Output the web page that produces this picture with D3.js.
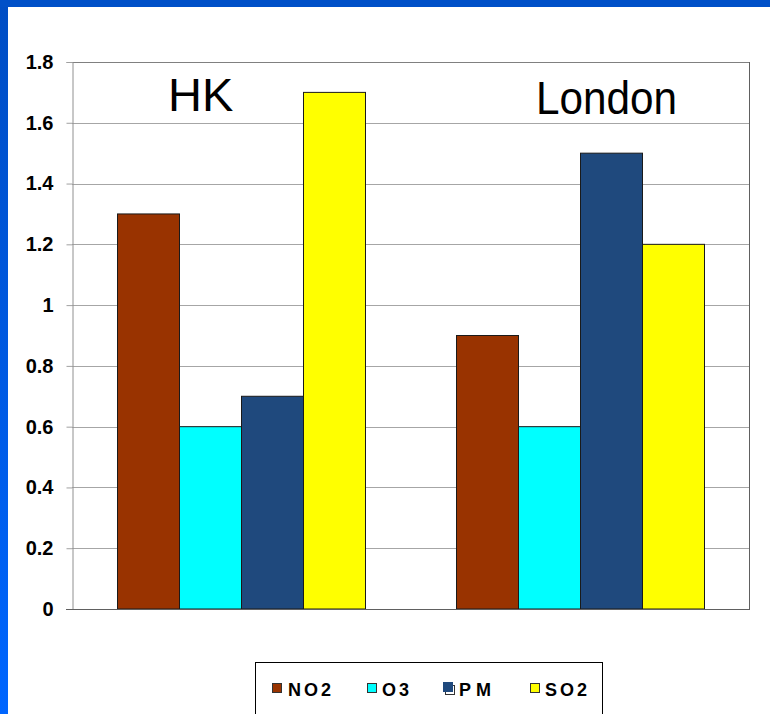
<!DOCTYPE html>
<html>
<head>
<meta charset="utf-8">
<script src="https://cdn.jsdelivr.net/npm/d3@7"></script>
<style>
  html, body { margin: 0; padding: 0; background: #ffffff; }
  svg { display: block; }
</style>
</head>
<body>
<svg id="chart" width="770" height="714"></svg>
<script>
// Pollutant ratios by city
const cities = ["HK", "London"];
const pollutants = ["NO2", "O3", "PM", "SO2"];
const no2 = [1.3, 0.9];
const o3  = [0.6, 0.6];
const pm  = [0.7, 1.5];
const so2 = [1.7, 1.2];
const yTicks = [0, 0.2, 0.4, 0.6, 0.8, 1, 1.2, 1.4, 1.6, 1.8];
const legendLabels = ["NO2", "O3", "PM", "SO2"];

const seriesValues = { NO2: no2, O3: o3, PM: pm, SO2: so2 };
const colors = { NO2: "#993300", O3: "#00ffff", PM: "#1f497d", SO2: "#ffff00" };

const svg = d3.select("#chart");
const W = 770, H = 714;

// blue slide frame (top and left edges)
const defs = svg.append("defs");
const grad = defs.append("linearGradient").attr("id", "frameGrad")
  .attr("x1", 0).attr("y1", 0).attr("x2", 0).attr("y2", 1);
grad.append("stop").attr("offset", "0%").attr("stop-color", "#004ec4");
grad.append("stop").attr("offset", "100%").attr("stop-color", "#0066ff");
svg.append("rect").attr("x", 0).attr("y", 0).attr("width", 8).attr("height", H).attr("fill", "url(#frameGrad)");
svg.append("rect").attr("x", 0).attr("y", 0).attr("width", W).attr("height", 7).attr("fill", "#0050c8");

const plot = { left: 72, top: 62, right: 750, bottom: 609 };

const y = d3.scaleLinear().domain([0, 1.8]).range([plot.bottom, plot.top]);
const x0 = d3.scaleBand().domain(cities).range([plot.left, plot.right]).padding(0);
const x1 = d3.scaleBand().domain(pollutants).range([0, x0.bandwidth()])
  .paddingInner(0).paddingOuter(0.734);

// gridlines
svg.append("g").selectAll("line").data(yTicks.filter(d => d > 0 && d < 1.8)).join("line")
  .attr("x1", plot.left).attr("x2", plot.right)
  .attr("y1", d => Math.round(y(d)) + 0.5).attr("y2", d => Math.round(y(d)) + 0.5)
  .attr("stroke", "#a6a6a6").attr("stroke-width", 1);

// plot frame
svg.append("line").attr("x1", plot.left).attr("x2", plot.right)
  .attr("y1", plot.top + 0.5).attr("y2", plot.top + 0.5).attr("stroke", "#808080");
svg.append("line").attr("x1", plot.right - 0.5).attr("x2", plot.right - 0.5)
  .attr("y1", plot.top).attr("y2", plot.bottom).attr("stroke", "#606060");

// y axis
const yAxis = d3.axisLeft(y).tickValues(yTicks).tickSize(6).tickPadding(13)
  .tickFormat(d => d3.format("~g")(d));
const ga = svg.append("g").attr("transform", `translate(${plot.left + 0.5},0)`).call(yAxis);
ga.select(".domain").attr("stroke", "#909090");
ga.selectAll(".tick line").attr("stroke", "#a0a0a0");
ga.selectAll(".tick text")
  .attr("font-family", "Liberation Sans, Arial, sans-serif")
  .attr("font-weight", "bold").attr("font-size", 20).attr("fill", "#000");

// bars
const groups = svg.append("g").selectAll("g").data(cities).join("g")
  .attr("transform", d => `translate(${x0(d)},0)`);
groups.selectAll("rect")
  .data((c, i) => pollutants.map(p => ({ p, v: seriesValues[p][i] })))
  .join("rect")
  .attr("x", d => x1(d.p))
  .attr("width", x1.bandwidth())
  .attr("y", d => y(d.v))
  .attr("height", d => plot.bottom - y(d.v))
  .attr("fill", d => colors[d.p])
  .attr("stroke", "#1a1a1a").attr("stroke-width", 1);

// x axis baseline
svg.append("line").attr("x1", plot.left - 6).attr("x2", plot.right)
  .attr("y1", plot.bottom + 0.5).attr("y2", plot.bottom + 0.5).attr("stroke", "#606060");

// city titles
svg.append("text").attr("x", 168).attr("y", 111)
  .attr("font-family", "Liberation Sans, Arial, sans-serif").attr("font-size", 47)
  .attr("fill", "#000").text(cities[0]);
svg.append("text").attr("x", 536).attr("y", 114)
  .attr("font-family", "Liberation Sans, Arial, sans-serif").attr("font-size", 46)
  .attr("textLength", 141).attr("lengthAdjust", "spacingAndGlyphs")
  .attr("fill", "#000").text(cities[1]);

// legend
svg.append("rect").attr("x", 255.5).attr("y", 662.5).attr("width", 347).attr("height", 70)
  .attr("fill", "#fff").attr("stroke", "#000").attr("stroke-width", 1);
const legendX = [272, 367, 443, 530];
const legendSpacing = [3, 3, 5, 3];
const legend = svg.append("g").selectAll("g").data(pollutants).join("g")
  .attr("transform", (d, i) => `translate(${legendX[i]},683)`);
legend.each(function (d) {
  const g = d3.select(this);
  if (d === "PM") {
    g.append("rect").attr("x", 2.5).attr("y", 2.5).attr("width", 9).attr("height", 9)
      .attr("fill", "#fff").attr("stroke", "#333");
    g.append("rect").attr("x", 0).attr("y", -1).attr("width", 10).attr("height", 10)
      .attr("fill", colors[d]);
  } else {
    g.append("rect").attr("x", 0.5).attr("y", 0.5).attr("width", 9).attr("height", 9)
      .attr("fill", colors[d]).attr("stroke", "#333");
  }
});
legend.append("text")
  .attr("x", (d, i) => [16, 15, 16, 15][i]).attr("y", 12.5)
  .attr("font-family", "Liberation Sans, Arial, sans-serif").attr("font-weight", "bold")
  .attr("font-size", 18).attr("letter-spacing", (d, i) => legendSpacing[i]).attr("fill", "#000")
  .text((d, i) => legendLabels[i]);
</script>
</body>
</html>
